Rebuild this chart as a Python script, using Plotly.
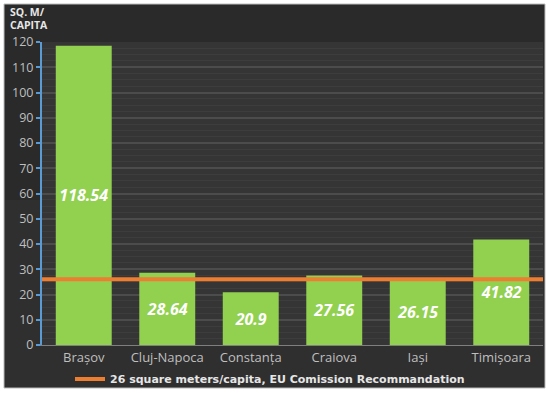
import plotly.graph_objects as go

cities = ["Brașov", "Cluj-Napoca", "Constanța", "Craiova", "Iași", "Timișoara"]
values = [118.54, 28.64, 20.9, 27.56, 26.15, 41.82]
label_text = ["118.54", "28.64", "20.9", "27.56", "26.15", "41.82"]
rec_x = [0, 1]
rec_y = [26, 26]
rec_name = "26 square meters/capita, EU Comission Recommandation"
y_title = ["SQ. M/", "CAPITA"]
y_ticks = list(range(0, 121, 10))

W, H = 550, 393
L, R, T, B = 42, 7, 42, 48
pw, ph = W - L - R, H - T - B

def px_x(p):
    return (p - L) / pw

def px_y(p):
    return (H - B - p) / ph

fig = go.Figure()
fig.add_trace(go.Bar(
    x=cities, y=values, text=label_text,
    textposition="inside", insidetextanchor="middle",
    textfont=dict(family="Open Sans", size=16, color="white", weight="bold", style="italic"),
    marker=dict(color="#92d050", line=dict(width=0)),
    width=0.67, showlegend=False, hoverinfo="x+y",
))
fig.add_trace(go.Scatter(
    x=rec_x, y=rec_y, xaxis="x2", mode="lines", name=rec_name,
    line=dict(color="#ed7d31", width=4),
))

# panel background (dark, slightly lighter toward the bottom)
fig.add_shape(type="rect", xref="paper", yref="paper",
              x0=px_x(4), x1=px_x(545), y0=px_y(388), y1=px_y(4),
              fillcolor="#2a2a2a", line=dict(color="#bdbdbd", width=1), layer="below")
fig.add_shape(type="rect", xref="paper", yref="paper",
              x0=px_x(5), x1=px_x(544), y0=px_y(387), y1=px_y(200),
              fillcolor="#2f2f2f", line=dict(width=0), layer="below")
fig.add_shape(type="rect", xref="paper", yref="paper",
              x0=0, x1=1, y0=0, y1=1,
              fillcolor="#353535", line=dict(width=0), layer="below")

for i, line in enumerate(y_title):
    fig.add_annotation(text="<b>%s</b>" % line, xref="paper", yref="paper",
                       x=px_x(8), y=px_y(12 + 13 * i), xanchor="left", yanchor="middle",
                       showarrow=False, align="left",
                       font=dict(family="Open Sans", size=10.5, color="#e6e6e6"))

fig.update_layout(
    width=W, height=H,
    margin=dict(l=L, r=R, t=T, b=B, autoexpand=False),
    paper_bgcolor="white", plot_bgcolor="rgba(0,0,0,0)",
    xaxis=dict(showgrid=False, showline=True, linecolor="#7f7f7f", linewidth=1,
               tickfont=dict(family="Open Sans", size=13, color="#bfbfbf"),
               ticks="", fixedrange=True, automargin=False),
    xaxis2=dict(overlaying="x", range=[0, 1], visible=False, fixedrange=True),
    yaxis=dict(range=[0, 120], tickvals=y_ticks, showline=True, linecolor="#5b9bd5",
               linewidth=2, ticks="outside", tickcolor="#5b9bd5", ticklen=4, tickwidth=2,
               gridcolor="#4c4c4c", gridwidth=2,
               minor=dict(dtick=2.5, showgrid=True, gridcolor="#3d3d3d", gridwidth=1),
               tickfont=dict(family="Open Sans", size=12.5, color="#bfbfbf"),
               zeroline=False, fixedrange=True, automargin=False),
    legend=dict(orientation="h", x=px_x(270), xanchor="center", y=px_y(379), yanchor="middle",
                font=dict(family="DejaVu Sans", size=11, color="#e6e6e6", weight="bold"),
                bgcolor="rgba(0,0,0,0)"),
    showlegend=True,
)

fig.write_html("out.html", config={"displayModeBar": False},
               post_script="document.body.style.margin='0';")
